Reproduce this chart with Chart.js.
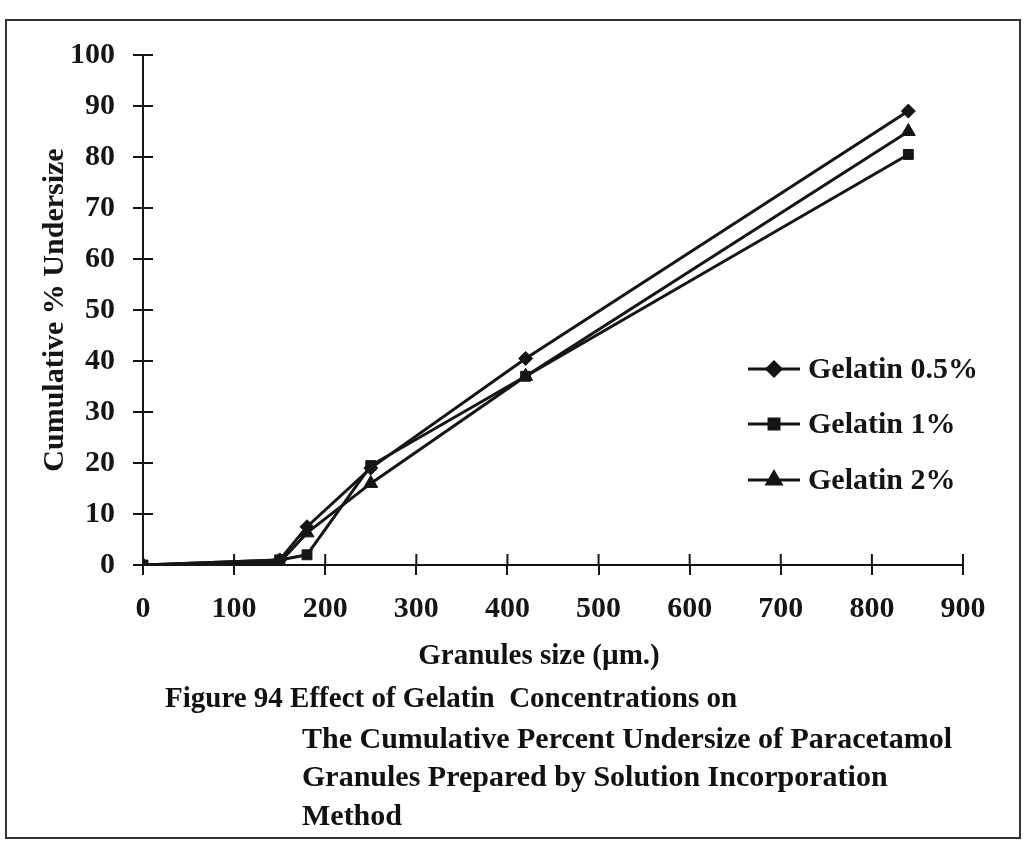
<!DOCTYPE html>
<html lang="en">
<head>
<meta charset="UTF-8">
<title>Figure 94 - Cumulative % Undersize</title>
<script src="https://cdn.jsdelivr.net/npm/chart.js"></script>
<style>
    body { margin: 0; background: #fff; }
    #wrap { position: relative; width: 1027px; height: 844px; overflow: hidden; }
    #frame {
        position: absolute; left: 5px; top: 19px; width: 1016px; height: 820px;
        border: 2px solid #333; box-sizing: border-box;
    }
    canvas { position: absolute; left: 0; top: 0; }
    .txt {
        position: absolute; font-family: "Liberation Serif", "Times New Roman", serif;
        font-weight: bold; font-size: 30px; color: #111; white-space: nowrap;
    }
</style>
</head>
<body>
<div id="wrap">
    <div id="frame"></div>
    <canvas id="chart" width="1027" height="844"></canvas>
    <div class="txt" style="left:339px; width:400px; text-align:center; top:638px; font-size:29px;">Granules size (&micro;m.)</div>
    <div class="txt" style="left:165px; top:681px; font-size:29px;">Figure 94 Effect of Gelatin&nbsp; Concentrations on</div>
    <div class="txt" style="left:302px; top:721px;">The Cumulative Percent Undersize of Paracetamol</div>
    <div class="txt" style="left:302px; top:759px;">Granules Prepared by Solution Incorporation</div>
    <div class="txt" style="left:302px; top:798px;">Method</div>
</div>
<script>
    // sieve sizes (µm)
    const sizes = [0, 150, 180, 250, 420, 840];
    const gelatin05 = [0, 1, 7.5, 19, 40.5, 89];
    const gelatin1 = [0, 1, 2, 19.5, 37, 80.5];
    const gelatin2 = [0, 0.5, 6.3, 16, 37, 85];
    const seriesNames = ['Gelatin 0.5%', 'Gelatin 1%', 'Gelatin 2%'];
    const markers = ['rectRot', 'rect', 'triangle'];
    const markerSizes = [7, 7, 8];

    const ink = '#151515';
    const serif = '"Liberation Serif", "Times New Roman", serif';

    function pts(vals) {
        return sizes.map((s, i) => ({ x: s, y: vals[i] }));
    }

    const datasets = [gelatin05, gelatin1, gelatin2].map((vals, i) => ({
        label: seriesNames[i],
        data: pts(vals),
        borderColor: ink,
        backgroundColor: ink,
        borderWidth: 3,
        pointStyle: markers[i],
        pointRadius: markerSizes[i],
        pointBorderWidth: 1,
        tension: 0
    }));

    // ticks crossing the axis lines (inside part)
    const crossTicks = {
        id: 'crossTicks',
        afterDraw(chart) {
            const c = chart.ctx, a = chart.chartArea;
            c.save();
            c.strokeStyle = ink;
            c.lineWidth = 2;
            chart.scales.x.ticks.forEach(t => {
                const px = chart.scales.x.getPixelForValue(t.value);
                c.beginPath(); c.moveTo(px, a.bottom); c.lineTo(px, a.bottom - 11); c.stroke();
            });
            chart.scales.y.ticks.forEach(t => {
                const py = chart.scales.y.getPixelForValue(t.value);
                c.beginPath(); c.moveTo(a.left, py); c.lineTo(a.left + 10, py); c.stroke();
            });
            c.restore();
        }
    };

    // legend drawn inside the plot, as in the figure
    const innerLegend = {
        id: 'innerLegend',
        afterDraw(chart) {
            const c = chart.ctx;
            const x0 = 748, x1 = 800, tx = 808;
            const rows = [369, 424, 480];
            c.save();
            c.font = 'bold 30px ' + serif;
            c.textBaseline = 'middle';
            c.fillStyle = ink;
            chart.data.datasets.forEach((ds, i) => {
                const y = rows[i];
                c.strokeStyle = ink;
                c.lineWidth = 3;
                c.beginPath(); c.moveTo(x0, y); c.lineTo(x1, y); c.stroke();
                Chart.helpers.drawPoint(c, {
                    pointStyle: ds.pointStyle, radius: ds.pointRadius, borderWidth: 1, rotation: 0
                }, (x0 + x1) / 2, y);
                c.fillStyle = ink;
                c.fillText(ds.label, tx, y + 1);
            });
            c.restore();
        }
    };

    new Chart(document.getElementById('chart'), {
        type: 'line',
        data: { datasets: datasets },
        plugins: [crossTicks, innerLegend],
        options: {
            responsive: false,
            animation: false,
            layout: { padding: { left: 0, top: 55, right: 64, bottom: 0 } },
            plugins: { legend: { display: false }, tooltip: { enabled: false } },
            scales: {
                x: {
                    type: 'linear', min: 0, max: 900,
                    ticks: { stepSize: 100, color: ink, font: { family: serif, size: 30, weight: 'bold' }, padding: 16, maxRotation: 0 },
                    grid: { drawOnChartArea: false, color: ink, lineWidth: 2, tickLength: 10 },
                    border: { color: ink, width: 2 },
                    afterFit(s) { s.height = 844 - 565; }
                },
                y: {
                    min: 0, max: 100,
                    ticks: { stepSize: 10, color: ink, font: { family: serif, size: 30, weight: 'bold' }, padding: 18 },
                    grid: { drawOnChartArea: false, color: ink, lineWidth: 2, tickLength: 10 },
                    border: { color: ink, width: 2 },
                    title: {
                        display: true, text: 'Cumulative % Undersize', color: ink,
                        font: { family: serif, size: 30, weight: 'bold' }, padding: { top: 37, bottom: 0 }
                    },
                    afterFit(s) { s.width = 143; }
                }
            }
        }
    });
</script>
</body>
</html>
